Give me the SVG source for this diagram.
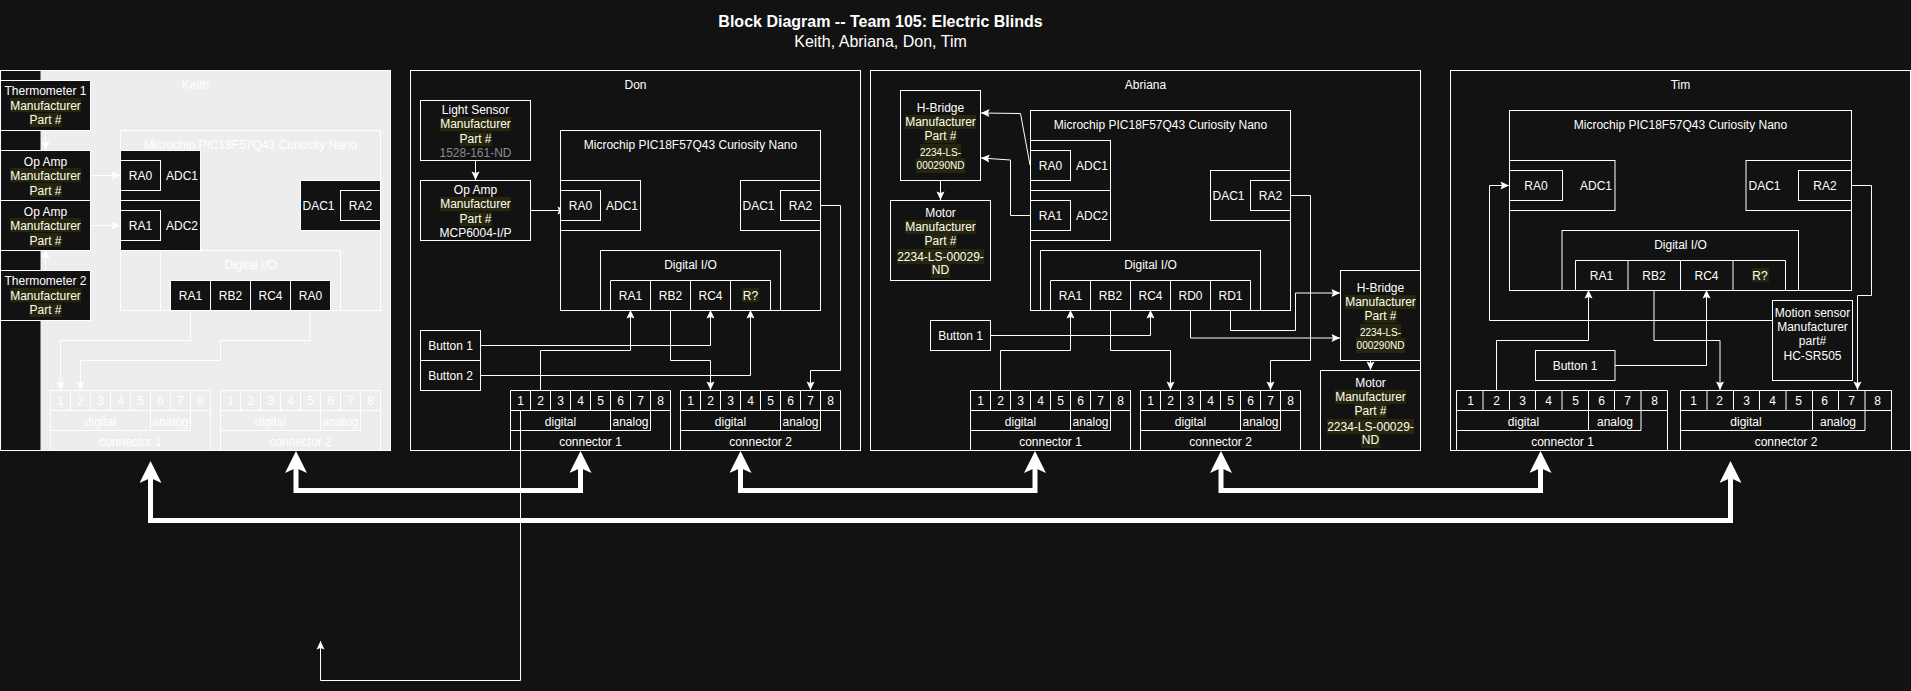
<svg xmlns="http://www.w3.org/2000/svg" width="1911" height="691" viewBox="0 0 1911 691">
<defs>
<style>
text{font-family:"Liberation Sans",Arial,sans-serif;font-size:12px;fill:#fff;text-anchor:middle}
.s{font-size:10px}
.hl{fill:#fffff0}
.g{fill:#8a8a8a}
.h{fill:#26260e;stroke:none}
.d{fill:#121212;stroke:#fff;stroke-width:1}
.o{fill:none;stroke:#fff;stroke-width:1}
.c{fill:none;stroke:#fff;stroke-width:1;marker-end:url(#a)}
.b{fill:none;stroke:#fff;stroke-width:5;marker-start:url(#ba);marker-end:url(#ba)}
</style>
<marker id="a" markerUnits="userSpaceOnUse" markerWidth="12" markerHeight="10" refX="10" refY="5" orient="auto"><path d="M10,5 L1.5,1 L3,5 L1.5,9 Z" fill="#fff"/></marker>
<marker id="ba" markerUnits="userSpaceOnUse" markerWidth="24" markerHeight="24" refX="10" refY="11" orient="auto-start-reverse"><path d="M22,11 L0,0 L5,11 L0,22 Z" fill="#fff"/></marker>
</defs>
<rect width="1911" height="691" fill="#121212"/>
<g id="title">
<text x="880.5" y="27" style="font-size:16px;font-weight:bold">Block Diagram -- Team 105: Electric Blinds</text>
<text x="880.5" y="47" style="font-size:16px">Keith, Abriana, Don, Tim</text>
</g>
<g id="panels">
<rect x="40.5" y="70" width="350" height="380" fill="#ededed"/>
<rect class="o" x="0.5" y="70.5" width="390" height="380"/>
<text x="195.5" y="89">Keith</text>
<rect class="o" x="410.5" y="70.5" width="450" height="380"/>
<text x="635.5" y="89">Don</text>
<rect class="o" x="870.5" y="70.5" width="550" height="380"/>
<text x="1145.5" y="89">Abriana</text>
<rect class="o" x="1450.5" y="70.5" width="460" height="380"/>
<text x="1680.5" y="89">Tim</text>
</g>
<g id="connectors">
<path class="c" d="M45.5,130 V150"/>
<path class="c" d="M45.5,270 V250"/>
<path class="c" d="M90,175.5 H120"/>
<path class="c" d="M90,225.5 H120"/>
<path class="c" d="M190.5,310 V340.5 H60.5 V390"/>
<path class="c" d="M310,310 V340.5 H220.5 V360.5 H80.5 V390"/>
<path class="c" d="M475.5,160 V180"/>
<path class="c" d="M530,210.5 H566"/>
<path class="c" d="M480,345.5 H710.5 V310"/>
<path class="c" d="M480,375.5 H750.5 V310"/>
<path class="c" d="M540.5,390 V350.5 H630.5 V310"/>
<path class="c" d="M670.5,310 V360.5 H710.5 V390"/>
<path class="c" d="M820,205.5 H840.5 V370.5 H810.5 V390"/>
<path class="c" d="M520.5,410 V680.5 H320.5 V641"/>
<path class="c" d="M1030,165 L1020.5,113.5 L981,113"/>
<path class="c" d="M1030,215.5 H1010.5 V160 L981,158"/>
<path class="c" d="M940.5,180 V200"/>
<path class="c" d="M990,335.5 H1150.5 V310"/>
<path class="c" d="M1000.5,390 V350.5 H1070.5 V310"/>
<path class="c" d="M1110.5,310 V350.5 H1170.5 V390"/>
<path class="c" d="M1190.5,310 V338 H1340"/>
<path class="c" d="M1230.5,310 V330.5 H1295.5 V293 H1340"/>
<path class="c" d="M1290,195.5 H1310.5 V360.5 H1270.5 V390"/>
<path class="c" d="M1370.5,360 V370"/>
<path class="c" d="M1772,320.5 H1489.5 V185.5 H1509"/>
<path class="c" d="M1496.5,390 V340.5 H1588.5 V290"/>
<path class="c" d="M1654,290 V340.5 H1720 V390"/>
<path class="c" d="M1615,365.5 H1706.5 V290"/>
<path class="c" d="M1852,185.5 H1871.5 V295.5 H1857.5 V390"/>
<path class="b" d="M150.5,473 V520.5 H1730.5 V473"/>
<path class="b" d="M296,463 V490.5 H580.5 V463"/>
<path class="b" d="M740.5,463 V490.5 H1035 V463"/>
<path class="b" d="M1221,463 V490.5 H1540.5 V463"/>
</g>

<g id="keith-thermometer-1">
<rect class="d" x="0.5" y="80.5" width="90" height="50"/>
<rect class="h" x="10" y="98" width="71" height="14"/><rect class="h" x="29.5" y="113" width="32" height="14"/>
<text x="45.5" y="95">Thermometer 1</text><text class="hl" x="45.5" y="110">Manufacturer</text><text class="hl" x="45.5" y="124">Part #</text>
</g>
<g id="keith-opamp-1">
<rect class="d" x="0.5" y="150.5" width="90" height="50"/>
<rect class="h" x="10" y="168" width="71" height="14"/><rect class="h" x="29.5" y="183" width="32" height="14"/>
<text x="45.5" y="165.5">Op Amp</text><text class="hl" x="45.5" y="180">Manufacturer</text><text class="hl" x="45.5" y="194.5">Part #</text>
</g>
<g id="keith-opamp-2">
<rect class="d" x="0.5" y="200.5" width="90" height="50"/>
<rect class="h" x="10" y="218" width="71" height="14"/><rect class="h" x="29.5" y="233" width="32" height="14"/>
<text x="45.5" y="215.5">Op Amp</text><text class="hl" x="45.5" y="230">Manufacturer</text><text class="hl" x="45.5" y="244.5">Part #</text>
</g>
<g id="keith-thermometer-2">
<rect class="d" x="0.5" y="270.5" width="90" height="50"/>
<rect class="h" x="10" y="288" width="71" height="14"/><rect class="h" x="29.5" y="303" width="32" height="14"/>
<text x="45.5" y="285">Thermometer 2</text><text class="hl" x="45.5" y="300">Manufacturer</text><text class="hl" x="45.5" y="314">Part #</text>
</g>
<g id="keith-mcu">
<rect class="o" x="120.5" y="130.5" width="260" height="180"/>
<text x="250.5" y="149">Microchip PIC18F57Q43 Curiosity Nano</text>
<rect class="d" x="120.5" y="150.5" width="80" height="50"/><rect class="d" x="120.5" y="160.5" width="40" height="30"/>
<text x="140.5" y="180">RA0</text><text x="182" y="180">ADC1</text>
<rect class="d" x="120.5" y="200.5" width="80" height="50"/><rect class="d" x="120.5" y="210.5" width="40" height="30"/>
<text x="140.5" y="230">RA1</text><text x="182" y="230">ADC2</text>
<rect class="d" x="300.5" y="180.5" width="80" height="50"/><rect class="d" x="340.5" y="190.5" width="40" height="30"/>
<text x="318.5" y="210">DAC1</text><text x="360.5" y="210">RA2</text>
<rect class="o" x="160.5" y="250.5" width="180" height="60"/>
<text x="250.5" y="269">Digital I/O</text>
<rect class="d" x="170.5" y="280.5" width="40" height="30"/><rect class="d" x="210.5" y="280.5" width="40" height="30"/><rect class="d" x="250.5" y="280.5" width="40" height="30"/><rect class="d" x="290.5" y="280.5" width="40" height="30"/>
<text x="190.5" y="300">RA1</text><text x="230.5" y="300">RB2</text><text x="270.5" y="300">RC4</text><text x="310.5" y="300">RA0</text>
</g>
<g id="keith-connector-1">
<path class="o" d="M50.5,390.5 H210.5 V450.5 H50.5 Z M50.5,410.5 H210.5 M50.5,430.5 H190.5 M70.5,390.5 V410.5 M90.5,390.5 V410.5 M110.5,390.5 V410.5 M130.5,390.5 V410.5 M150.5,390.5 V430.5 M170.5,390.5 V410.5 M190.5,390.5 V430.5"/>
<text x="60.5" y="405">1</text><text x="80.5" y="405">2</text><text x="100.5" y="405">3</text><text x="120.5" y="405">4</text><text x="140.5" y="405">5</text><text x="160.5" y="405">6</text><text x="180.5" y="405">7</text><text x="200.5" y="405">8</text>
<text x="100.5" y="425.5">digital</text><text x="170.5" y="425.5">analog</text><text x="130.5" y="446">connector 1</text>
</g>
<g id="keith-connector-2">
<path class="o" d="M220.5,390.5 H380.5 V450.5 H220.5 Z M220.5,410.5 H380.5 M220.5,430.5 H360.5 M240.5,390.5 V410.5 M260.5,390.5 V410.5 M280.5,390.5 V410.5 M300.5,390.5 V410.5 M320.5,390.5 V430.5 M340.5,390.5 V410.5 M360.5,390.5 V430.5"/>
<text x="230.5" y="405">1</text><text x="250.5" y="405">2</text><text x="270.5" y="405">3</text><text x="290.5" y="405">4</text><text x="310.5" y="405">5</text><text x="330.5" y="405">6</text><text x="350.5" y="405">7</text><text x="370.5" y="405">8</text>
<text x="270.5" y="425.5">digital</text><text x="340.5" y="425.5">analog</text><text x="300.5" y="446">connector 2</text>
</g>

<g id="don-light-sensor">
<rect class="d" x="420.5" y="100.5" width="110" height="60"/>
<rect class="h" x="440" y="117" width="71" height="14"/><rect class="h" x="459.5" y="132" width="32" height="14"/>
<text x="475.5" y="114">Light Sensor</text><text class="hl" x="475.5" y="128">Manufacturer</text><text class="hl" x="475.5" y="143">Part #</text><text class="g" x="475.5" y="157">1528-161-ND</text>
</g>
<g id="don-opamp">
<rect class="d" x="420.5" y="180.5" width="110" height="60"/>
<rect class="h" x="440" y="197" width="71" height="14"/><rect class="h" x="459.5" y="212" width="32" height="14"/>
<text x="475.5" y="194">Op Amp</text><text class="hl" x="475.5" y="208">Manufacturer</text><text class="hl" x="475.5" y="223">Part #</text><text x="475.5" y="237">MCP6004-I/P</text>
</g>
<g id="don-mcu">
<rect class="o" x="560.5" y="130.5" width="260" height="180"/>
<text x="690.5" y="149">Microchip PIC18F57Q43 Curiosity Nano</text>
<rect class="d" x="560.5" y="180.5" width="80" height="50"/><rect class="d" x="560.5" y="190.5" width="40" height="30"/>
<text x="580.5" y="210">RA0</text><text x="622" y="210">ADC1</text>
<rect class="d" x="740.5" y="180.5" width="80" height="50"/><rect class="d" x="780.5" y="190.5" width="40" height="30"/>
<text x="758.5" y="210">DAC1</text><text x="800.5" y="210">RA2</text>
<rect class="o" x="600.5" y="250.5" width="180" height="60"/>
<text x="690.5" y="269">Digital I/O</text>
<path class="o" d="M610.5,280.5 H770.5 V310.5 H610.5 Z M650.5,280.5 V310.5 M690.5,280.5 V310.5 M730.5,280.5 V310.5"/>
<rect class="h" x="742" y="288" width="17" height="14"/>
<text x="630.5" y="300">RA1</text><text x="670.5" y="300">RB2</text><text x="710.5" y="300">RC4</text><text class="hl" x="750.5" y="300">R?</text>
</g>
<g id="don-button-1"><rect class="d" x="420.5" y="330.5" width="60" height="30"/><text x="450.5" y="350">Button 1</text></g>
<g id="don-button-2"><rect class="d" x="420.5" y="360.5" width="60" height="30"/><text x="450.5" y="380">Button 2</text></g>
<g id="don-connector-1">
<path class="o" d="M510.5,390.5 H670.5 V450.5 H510.5 Z M510.5,410.5 H670.5 M510.5,430.5 H650.5 M530.5,390.5 V410.5 M550.5,390.5 V410.5 M570.5,390.5 V410.5 M590.5,390.5 V410.5 M610.5,390.5 V430.5 M630.5,390.5 V410.5 M650.5,390.5 V430.5"/>
<text x="520.5" y="405">1</text><text x="540.5" y="405">2</text><text x="560.5" y="405">3</text><text x="580.5" y="405">4</text><text x="600.5" y="405">5</text><text x="620.5" y="405">6</text><text x="640.5" y="405">7</text><text x="660.5" y="405">8</text>
<text x="560.5" y="425.5">digital</text><text x="630.5" y="425.5">analog</text><text x="590.5" y="446">connector 1</text>
</g>
<g id="don-connector-2">
<path class="o" d="M680.5,390.5 H840.5 V450.5 H680.5 Z M680.5,410.5 H840.5 M680.5,430.5 H820.5 M700.5,390.5 V410.5 M720.5,390.5 V410.5 M740.5,390.5 V410.5 M760.5,390.5 V410.5 M780.5,390.5 V430.5 M800.5,390.5 V410.5 M820.5,390.5 V430.5"/>
<text x="690.5" y="405">1</text><text x="710.5" y="405">2</text><text x="730.5" y="405">3</text><text x="750.5" y="405">4</text><text x="770.5" y="405">5</text><text x="790.5" y="405">6</text><text x="810.5" y="405">7</text><text x="830.5" y="405">8</text>
<text x="730.5" y="425.5">digital</text><text x="800.5" y="425.5">analog</text><text x="760.5" y="446">connector 2</text>
</g>

<g id="abriana-hbridge-1">
<rect class="d" x="900.5" y="90.5" width="80" height="90"/>
<rect class="h" x="905" y="115" width="71" height="14"/><rect class="h" x="924.5" y="129" width="32" height="14"/><rect class="h" x="920" y="144" width="41" height="15"/><rect class="h" x="916" y="158" width="49" height="15"/>
<text x="940.5" y="112">H-Bridge</text><text class="hl" x="940.5" y="126">Manufacturer</text><text class="hl" x="940.5" y="140">Part #</text><text class="hl s" x="940.5" y="155.5">2234-LS-</text><text class="hl s" x="940.5" y="169">000290ND</text>
</g>
<g id="abriana-motor-1">
<rect class="d" x="890.5" y="200.5" width="100" height="80"/>
<rect class="h" x="905" y="220" width="71" height="14"/><rect class="h" x="924.5" y="234" width="32" height="14"/><rect class="h" x="897" y="249" width="87" height="15"/><rect class="h" x="931" y="263" width="19" height="15"/>
<text x="940.5" y="217">Motor</text><text class="hl" x="940.5" y="231">Manufacturer</text><text class="hl" x="940.5" y="245">Part #</text><text class="hl" x="940.5" y="260.5">2234-LS-00029-</text><text class="hl" x="940.5" y="274">ND</text>
</g>
<g id="abriana-mcu">
<rect class="o" x="1030.5" y="110.5" width="260" height="200"/>
<text x="1160.5" y="129">Microchip PIC18F57Q43 Curiosity Nano</text>
<rect class="d" x="1030.5" y="140.5" width="80" height="50"/><rect class="d" x="1030.5" y="150.5" width="40" height="30"/>
<text x="1050.5" y="170">RA0</text><text x="1092" y="170">ADC1</text>
<rect class="d" x="1030.5" y="190.5" width="80" height="50"/><rect class="d" x="1030.5" y="200.5" width="40" height="30"/>
<text x="1050.5" y="220">RA1</text><text x="1092" y="220">ADC2</text>
<rect class="d" x="1210.5" y="170.5" width="80" height="50"/><rect class="d" x="1250.5" y="180.5" width="40" height="30"/>
<text x="1228.5" y="200">DAC1</text><text x="1270.5" y="200">RA2</text>
<rect class="o" x="1040.5" y="250.5" width="220" height="60"/>
<text x="1150.5" y="269">Digital I/O</text>
<path class="o" d="M1050.5,280.5 H1250.5 V310.5 H1050.5 Z M1090.5,280.5 V310.5 M1130.5,280.5 V310.5 M1170.5,280.5 V310.5 M1210.5,280.5 V310.5"/>
<text x="1070.5" y="300">RA1</text><text x="1110.5" y="300">RB2</text><text x="1150.5" y="300">RC4</text><text x="1190.5" y="300">RD0</text><text x="1230.5" y="300">RD1</text>
</g>
<g id="abriana-button-1"><rect class="d" x="930.5" y="320.5" width="60" height="30"/><text x="960.5" y="340">Button 1</text></g>
<g id="abriana-connector-1">
<path class="o" d="M970.5,390.5 H1130.5 V450.5 H970.5 Z M970.5,410.5 H1130.5 M970.5,430.5 H1110.5 M990.5,390.5 V410.5 M1010.5,390.5 V410.5 M1030.5,390.5 V410.5 M1050.5,390.5 V410.5 M1070.5,390.5 V430.5 M1090.5,390.5 V410.5 M1110.5,390.5 V430.5"/>
<text x="980.5" y="405">1</text><text x="1000.5" y="405">2</text><text x="1020.5" y="405">3</text><text x="1040.5" y="405">4</text><text x="1060.5" y="405">5</text><text x="1080.5" y="405">6</text><text x="1100.5" y="405">7</text><text x="1120.5" y="405">8</text>
<text x="1020.5" y="425.5">digital</text><text x="1090.5" y="425.5">analog</text><text x="1050.5" y="446">connector 1</text>
</g>
<g id="abriana-connector-2">
<path class="o" d="M1140.5,390.5 H1300.5 V450.5 H1140.5 Z M1140.5,410.5 H1300.5 M1140.5,430.5 H1280.5 M1160.5,390.5 V410.5 M1180.5,390.5 V410.5 M1200.5,390.5 V410.5 M1220.5,390.5 V410.5 M1240.5,390.5 V430.5 M1260.5,390.5 V410.5 M1280.5,390.5 V430.5"/>
<text x="1150.5" y="405">1</text><text x="1170.5" y="405">2</text><text x="1190.5" y="405">3</text><text x="1210.5" y="405">4</text><text x="1230.5" y="405">5</text><text x="1250.5" y="405">6</text><text x="1270.5" y="405">7</text><text x="1290.5" y="405">8</text>
<text x="1190.5" y="425.5">digital</text><text x="1260.5" y="425.5">analog</text><text x="1220.5" y="446">connector 2</text>
</g>
<g id="abriana-hbridge-2">
<rect class="d" x="1340.5" y="270.5" width="80" height="90"/>
<rect class="h" x="1345" y="295" width="71" height="14"/><rect class="h" x="1364.5" y="309" width="32" height="14"/><rect class="h" x="1360" y="324" width="41" height="15"/><rect class="h" x="1356" y="338" width="49" height="15"/>
<text x="1380.5" y="292">H-Bridge</text><text class="hl" x="1380.5" y="306">Manufacturer</text><text class="hl" x="1380.5" y="320">Part #</text><text class="hl s" x="1380.5" y="335.5">2234-LS-</text><text class="hl s" x="1380.5" y="349">000290ND</text>
</g>
<g id="abriana-motor-2">
<rect class="d" x="1320.5" y="370.5" width="100" height="80"/>
<rect class="h" x="1335" y="390" width="71" height="14"/><rect class="h" x="1354.5" y="404" width="32" height="14"/><rect class="h" x="1327" y="419" width="87" height="15"/><rect class="h" x="1361" y="433" width="19" height="15"/>
<text x="1370.5" y="387">Motor</text><text class="hl" x="1370.5" y="401">Manufacturer</text><text class="hl" x="1370.5" y="415">Part #</text><text class="hl" x="1370.5" y="430.5">2234-LS-00029-</text><text class="hl" x="1370.5" y="444">ND</text>
</g>

<g id="tim-mcu">
<rect class="o" x="1509.5" y="110.5" width="342" height="180"/>
<text x="1680.5" y="129">Microchip PIC18F57Q43 Curiosity Nano</text>
<rect class="d" x="1509.5" y="160.5" width="105.5" height="50"/><rect class="d" x="1509.5" y="170.5" width="53" height="30"/>
<text x="1536" y="190">RA0</text><text x="1596" y="190">ADC1</text>
<rect class="d" x="1746" y="160.5" width="105.5" height="50"/><rect class="d" x="1798.5" y="170.5" width="53" height="30"/>
<text x="1764.5" y="190">DAC1</text><text x="1825" y="190">RA2</text>
<rect class="o" x="1562" y="230.5" width="236.5" height="60"/>
<text x="1680.5" y="249">Digital I/O</text>
<path class="o" d="M1575.5,260.5 H1785.5 V290.5 H1575.5 Z M1628,260.5 V290.5 M1680.5,260.5 V290.5 M1733,260.5 V290.5"/>
<rect class="h" x="1752" y="268" width="17" height="14"/>
<text x="1601.5" y="280">RA1</text><text x="1654" y="280">RB2</text><text x="1706.5" y="280">RC4</text><text class="hl" x="1760" y="280">R?</text>
</g>
<g id="tim-motion-sensor">
<rect class="d" x="1772.5" y="300.5" width="80" height="80"/>
<text x="1812.5" y="317">Motion sensor</text><text x="1812.5" y="331">Manufacturer</text><text x="1812.5" y="345">part#</text><text x="1812.5" y="360">HC-SR505</text>
</g>
<g id="tim-button-1"><rect class="d" x="1535.5" y="350.5" width="79.5" height="30"/><text x="1575" y="370">Button 1</text></g>
<g id="tim-connector-1">
<path class="o" d="M1456.5,390.5 H1667.5 V450.5 H1456.5 Z M1456.5,410.5 H1667.5 M1456.5,430.5 H1641 M1483,390.5 V410.5 M1509.5,390.5 V410.5 M1535.5,390.5 V410.5 M1562,390.5 V410.5 M1588.5,390.5 V430.5 M1614.5,390.5 V410.5 M1641,390.5 V430.5"/>
<text x="1470.5" y="405">1</text><text x="1496.5" y="405">2</text><text x="1522.5" y="405">3</text><text x="1548.5" y="405">4</text><text x="1575.5" y="405">5</text><text x="1601.5" y="405">6</text><text x="1627.5" y="405">7</text><text x="1654.5" y="405">8</text>
<text x="1523.5" y="425.5">digital</text><text x="1615" y="425.5">analog</text><text x="1562.5" y="446">connector 1</text>
</g>
<g id="tim-connector-2">
<path class="o" d="M1680.5,390.5 H1891.5 V450.5 H1680.5 Z M1680.5,410.5 H1891.5 M1680.5,430.5 H1865 M1707,390.5 V410.5 M1733.5,390.5 V410.5 M1759.5,390.5 V410.5 M1786,390.5 V410.5 M1812.5,390.5 V430.5 M1838.5,390.5 V410.5 M1865,390.5 V430.5"/>
<text x="1693.5" y="405">1</text><text x="1719.5" y="405">2</text><text x="1746.5" y="405">3</text><text x="1772.5" y="405">4</text><text x="1798.5" y="405">5</text><text x="1824.5" y="405">6</text><text x="1851.5" y="405">7</text><text x="1877.5" y="405">8</text>
<text x="1746" y="425.5">digital</text><text x="1838" y="425.5">analog</text><text x="1786" y="446">connector 2</text>
</g>
</svg>
